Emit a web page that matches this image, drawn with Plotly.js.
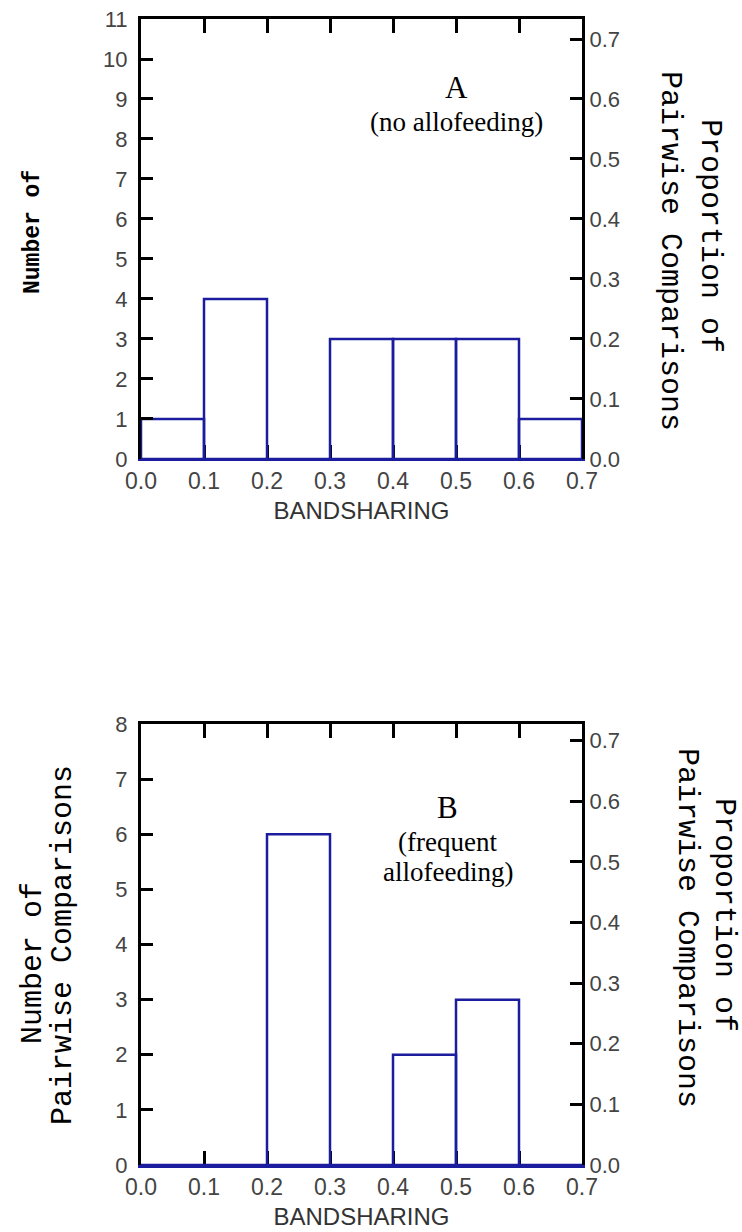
<!DOCTYPE html>
<html>
<head>
<meta charset="utf-8">
<script src="https://cdn.plot.ly/plotly-3.0.1.min.js"></script>
<style>
html,body{margin:0;padding:0;background:#fff;}
#chart{width:742px;height:1232px;}
</style>
</head>
<body>
<div id="chart"></div>
<script>
// ---- data ----
var binStarts = [0.0, 0.1, 0.2, 0.3, 0.4, 0.5, 0.6];
var countsA = [1, 4, 0, 3, 3, 3, 1];   // A: no allofeeding
var countsB = [0, 0, 6, 0, 2, 3, 0];   // B: frequent allofeeding
var xTickVals = [0.0, 0.1, 0.2, 0.3, 0.4, 0.5, 0.6, 0.7];
var xTickText = ["0.0", "0.1", "0.2", "0.3", "0.4", "0.5", "0.6", "0.7"];
var yMaxA = 11;
var yMaxB = 8;

function sum(a){ return a.reduce(function(s,v){return s+v;},0); }
var totalA = sum(countsA), totalB = sum(countsB);
var propA = countsA.map(function(v){return v/totalA;});
var propB = countsB.map(function(v){return v/totalB;});

var barColor = "#1c1c9e";
var xTickFont = {family: "Arial, 'Liberation Sans', sans-serif", size: 23, color: "#444"};
var yTickFont = {family: "Arial, 'Liberation Sans', sans-serif", size: 22, color: "#444"};
var monoFont = "'Courier New', 'Liberation Mono', monospace";
var serifFont = "'Times New Roman', 'Liberation Serif', serif";

function barTrace(counts, xa, ya){
  return {
    type: "bar", x: binStarts, y: counts, width: 0.1, offset: 0,
    xaxis: xa, yaxis: ya,
    marker: {color: "rgba(255,255,255,0)", line: {color: barColor, width: 2.5}},
    hoverinfo: "x+y", showlegend: false
  };
}
// proportion traces (same bins, scaled axis) - drawn invisibly so right/top axes exist
function propTrace(props, xa, ya){
  return {
    type: "bar", x: binStarts, y: props, width: 0.1, offset: 0,
    xaxis: xa, yaxis: ya,
    marker: {color: "rgba(0,0,0,0)", line: {width: 0}},
    hoverinfo: "skip", showlegend: false
  };
}

var data = [
  propTrace(propA, "x2", "y2"),
  propTrace(propB, "x4", "y4"),
  barTrace(countsA, "x", "y"),
  barTrace(countsB, "x3", "y3")
];

var domA = [0.6161, 1.0];
var domB = [0.0, 0.3848];

function bottomX(anchor, title){
  return {
    domain: [0,1], anchor: anchor, range: [0, 0.7],
    tickvals: xTickVals, ticktext: xTickText,
    ticks: "inside", ticklen: 14, tickwidth: 3, tickcolor: "#000",
    showline: true, linecolor: barColor, linewidth: 2.5,
    showgrid: false, zeroline: false, layer: "below traces",
    tickfont: xTickFont, ticklabelstandoff: 0,
    title: {text: title, font: {family: "Arial, 'Liberation Sans', sans-serif", size: 24, color: "#333"}, standoff: 9},
    fixedrange: true
  };
}
function topX(over, anchor){
  return {
    overlaying: over, anchor: anchor, side: "top", range: [0, 0.7],
    tickvals: xTickVals, ticks: "inside", ticklen: 14, tickwidth: 3, tickcolor: "#000",
    showticklabels: false, showline: true, linecolor: "#000", linewidth: 3,
    showgrid: false, zeroline: false, fixedrange: true
  };
}
function leftY(dom, anchor, ymax){
  return {
    domain: dom, anchor: anchor, range: [0, ymax], dtick: 1, tick0: 0,
    ticks: "inside", ticklen: 12, tickwidth: 3, tickcolor: "#000",
    showline: true, linecolor: "#000", linewidth: 3,
    showgrid: false, zeroline: false, tickfont: yTickFont, ticklabelstandoff: 6,
    fixedrange: true
  };
}
function rightY(over, anchor, top){
  return {
    overlaying: over, anchor: anchor, side: "right", range: [0, top],
    dtick: 0.1, tick0: 0, tickformat: ".1f",
    ticks: "inside", ticklen: 12, tickwidth: 3, tickcolor: "#000",
    showline: true, linecolor: "#000", linewidth: 3,
    showgrid: false, zeroline: false, tickfont: yTickFont, ticklabelstandoff: 0,
    fixedrange: true
  };
}

function px2x(px){ return (px - 141) / 441; }
function px2y(py){ return (1165 - py) / 1146; }

function vtitle(text, px, py, angle, size, bold){
  return {
    xref: "paper", yref: "paper", x: px2x(px), y: px2y(py),
    xanchor: "center", yanchor: "middle", showarrow: false, textangle: angle,
    text: bold ? "<b>" + text + "</b>" : text,
    font: {family: monoFont, size: size, color: "#000"}
  };
}
function label(text, xref, yref, x, y, size){
  return {xref: xref, yref: yref, x: x, y: y, xanchor: "center", yanchor: "middle",
          showarrow: false, text: text, font: {family: serifFont, size: size, color: "#000"}};
}

var annotations = [
  vtitle("Number of", 33, 232, -90, 23, true),
  vtitle("Proportion of", 710, 236, 90, 30, false),
  vtitle("Pairwise Comparisons", 670, 251, 90, 30, false),
  vtitle("Number of", 33, 963, -90, 30, false),
  vtitle("Pairwise Comparisons", 63, 945, -90, 30, false),
  vtitle("Proportion of", 724, 915, 90, 30, false),
  vtitle("Pairwise Comparisons", 687, 928, 90, 30, false),
  label("A", "x", "y", 0.5, 9.28, 31),
  label("(no allofeeding)", "x", "y", 0.5, 8.43, 27),
  label("B", "x3", "y3", 0.487, 6.49, 31),
  label("(frequent", "x3", "y3", 0.487, 5.86, 27),
  label("allofeeding)", "x3", "y3", 0.487, 5.32, 27)
];

var layout = {
  width: 742, height: 1232,
  margin: {l: 141, r: 160, t: 19, b: 67, autoexpand: false},
  paper_bgcolor: "#fff", plot_bgcolor: "#fff",
  showlegend: false, bargap: 0, barmode: "overlay",
  xaxis: bottomX("y", "BANDSHARING"),
  xaxis2: topX("x", "y2"),
  yaxis: leftY(domA, "x", yMaxA),
  yaxis2: rightY("y", "x2", yMaxA / totalA),
  xaxis3: bottomX("y3", "BANDSHARING"),
  xaxis4: topX("x3", "y4"),
  yaxis3: leftY(domB, "x3", yMaxB),
  yaxis4: rightY("y3", "x4", yMaxB / totalB),
  annotations: annotations
};

Plotly.newPlot("chart", data, layout, {displayModeBar: false, staticPlot: true});
</script>
</body>
</html>
